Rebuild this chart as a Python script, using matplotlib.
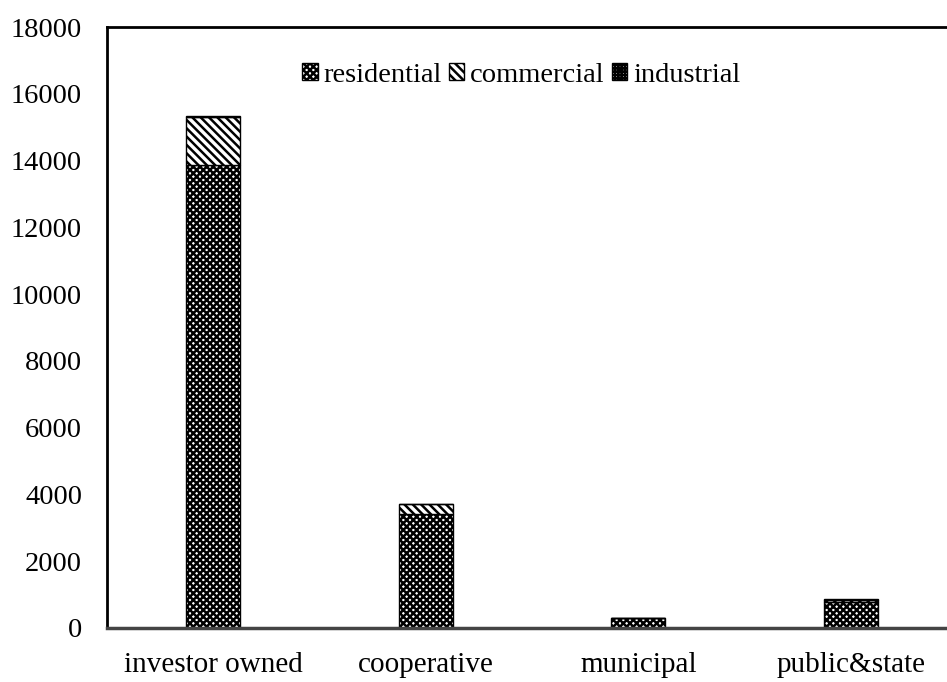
import matplotlib.pyplot as plt
import numpy as np

plt.rcParams['font.family'] = ['Liberation Serif', 'DejaVu Serif']
plt.rcParams['hatch.linewidth'] = 1.8

categories = ['investor owned', 'cooperative', 'municipal', 'public&state']
residential = [13880, 3410, 300, 770]
commercial = [1440, 300, 10, 80]
industrial = [10, 5, 2, 5]
yticks = [0, 2000, 4000, 6000, 8000, 10000, 12000, 14000, 16000, 18000]

fig = plt.figure(figsize=(9.47, 6.82), dpi=100)
ax = fig.add_axes([0.113, 0.0792, 0.8976, 0.881])

x = np.arange(len(categories))
w = 0.254
res = np.array(residential)
com = np.array(commercial)
ind = np.array(industrial)

ax.bar(x, res, w, color='white', edgecolor='black', hatch='xxxxx', linewidth=1, label='residential')
ax.bar(x, com, w, bottom=res, color='white', edgecolor='black', hatch='\\\\\\\\', linewidth=1, label='commercial')
ax.bar(x, ind, w, bottom=res + com, color='white', edgecolor='black', hatch='+++++', linewidth=1, label='industrial')

ax.set_xlim(-0.5, 3.5)
ax.set_ylim(0, 18000)
ax.set_yticks(yticks)
ax.set_xticks(x)
ax.set_xticklabels(categories)
ax.tick_params(axis='y', length=0, labelsize=20.5, pad=18)
ax.tick_params(axis='x', length=0, labelsize=21, pad=17)

for s in ['left', 'top']:
    ax.spines[s].set_linewidth(2)
ax.spines['bottom'].set_linewidth(2.5)
ax.spines['bottom'].set_color('#444444')
ax.spines['right'].set_visible(False)

ax.legend(loc='upper center', bbox_to_anchor=(0.487, 0.983), ncol=3, frameon=False,
          fontsize=20.5, handlelength=0.55, handleheight=0.55, handletextpad=0.2, columnspacing=0.25)

fig.savefig('out.png', dpi=100)
